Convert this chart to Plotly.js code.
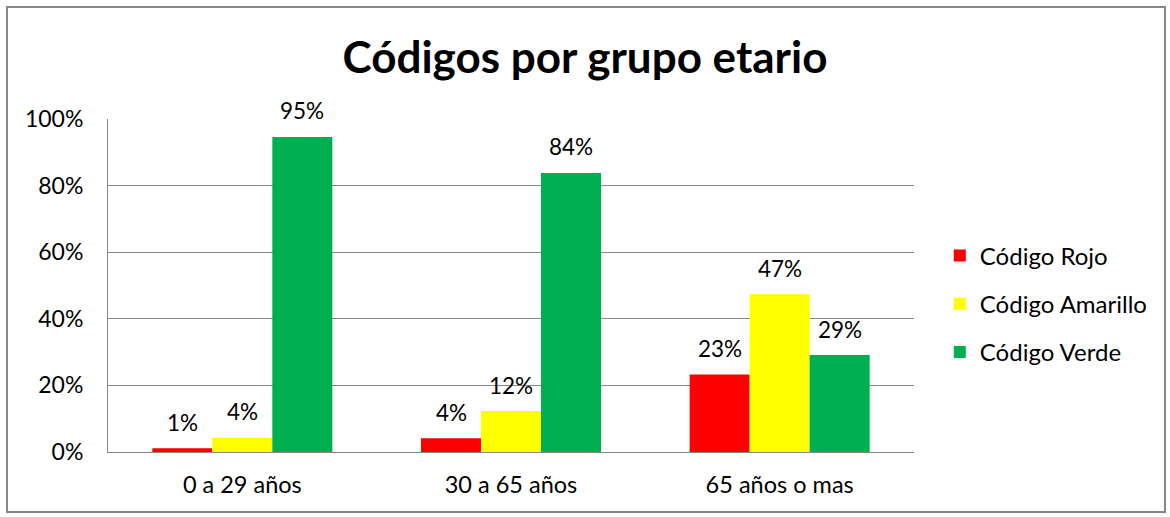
<!DOCTYPE html>
<html>
<head>
<meta charset="utf-8">
<script src="https://cdn.plot.ly/plotly-3.0.1.min.js"></script>
<style>
  html, body { margin: 0; padding: 0; background: #fff; }
  #chart { width: 1170px; height: 517px; position: absolute; left: 0; top: 0; }
  #frame { position: absolute; left: 6px; top: 6px; width: 1156px; height: 503px; border: 2px solid #878787; pointer-events: none; }
</style>
</head>
<body>
<div id="chart"></div>
<div id="frame"></div>
<script>
const categories = ["0 a 29 años", "30 a 65 años", "65 años o mas"];
const seriesNames = ["Código Rojo", "Código Amarillo", "Código Verde"];
const rojo = [0.011, 0.041, 0.233];
const amarillo = [0.043, 0.123, 0.474];
const verde = [0.946, 0.838, 0.291];
const yTickVals = [0, 0.2, 0.4, 0.6, 0.8, 1.0];
const yTickText = ["0%", "20%", "40%", "60%", "80%", "100%"];

const FONT = "Lato, 'Open Sans', sans-serif";
const colors = ["#FF0000", "#FFFF00", "#00B050"];
const allSeries = [rojo, amarillo, verde];

const traces = allSeries.map((vals, i) => ({
  type: "bar",
  name: seriesNames[i],
  x: categories,
  y: vals,
  marker: { color: colors[i] },
  legendgroup: "g" + i,
  hoverinfo: "none"
}));

const shifts = [-60, 0, 60];
const annotations = [];
allSeries.forEach((vals, i) => {
  vals.forEach((v, j) => {
    annotations.push({
      x: categories[j], y: v, xref: "x", yref: "y",
      text: Math.round(v * 100) + "%",
      showarrow: false, xshift: shifts[i], yshift: 26,
      yanchor: "middle",
      font: { family: FONT, size: 22.5, color: "#000" }
    });
  });
});

const layout = {
  width: 1170, height: 517,
  margin: { l: 108, r: 256, t: 119, b: 65 },
  paper_bgcolor: "rgba(0,0,0,0)",
  plot_bgcolor: "#fff",
  barmode: "group",
  bargap: 0.33,
  bargroupgap: 0,
  title: {
    text: "<b>Códigos por grupo etario</b>",
    font: { family: FONT, size: 44, color: "#000" },
    x: 0.5, xref: "container", xanchor: "center",
    y: 1 - 58 / 517, yref: "container", yanchor: "middle"
  },
  xaxis: {
    type: "category",
    showgrid: false,
    showline: true, linecolor: "#878787", linewidth: 1,
    ticks: "outside", ticklen: 12, tickcolor: "rgba(0,0,0,0)",
    tickfont: { family: FONT, size: 23.5, color: "#000" },
    fixedrange: true
  },
  yaxis: {
    range: [0, 1.0],
    tickvals: yTickVals, ticktext: yTickText,
    showgrid: true, gridcolor: "#878787", gridwidth: 1,
    showline: true, linecolor: "#878787", linewidth: 1,
    zeroline: false,
    ticks: "outside", ticklen: 19, tickcolor: "rgba(0,0,0,0)",
    tickfont: { family: FONT, size: 23, color: "#000" },
    fixedrange: true
  },
  showlegend: true,
  legend: {
    x: 1.032, xanchor: "left",
    y: (452 - 304) / 333, yanchor: "middle",
    traceorder: "grouped",
    tracegroupgap: 14,
    font: { family: FONT, size: 24, color: "#000" },
    bgcolor: "rgba(0,0,0,0)"
  },
  annotations: annotations
};

Plotly.newPlot("chart", traces, layout, { displayModeBar: false, staticPlot: true });
</script>
</body>
</html>
